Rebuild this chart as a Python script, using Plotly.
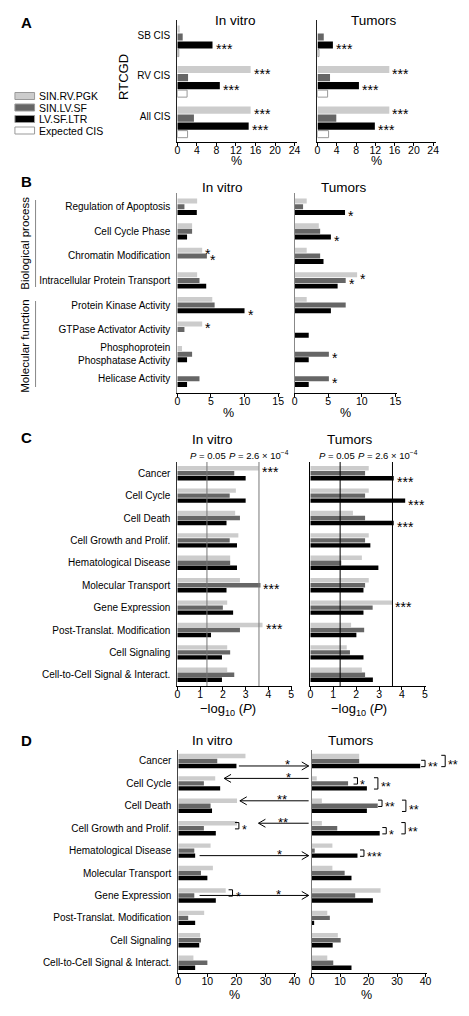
import math
import plotly.graph_objects as go

# page is 469 x 1016; the HTML body has a default 8px margin, so the figure is
# drawn inside that margin and positions below are given in page pixels.
PAGE_W, PAGE_H = 469, 1016
OFF = 8
W, H = PAGE_W - 2 * OFF, PAGE_H - 2 * OFF
FONT = "Liberation Sans, Arial, Helvetica, sans-serif"

# ---------------- data ----------------
series_names = ["SIN.RV.PGK", "SIN.LV.SF", "LV.SF.LTR", "Expected CIS"]
series_colors = ["#cccccc", "#666666", "#000000", "#ffffff"]

# Panel A (RTCGD, %)
a_categories = ["SB CIS", "RV CIS", "All CIS"]
a_vitro_rv_pgk = [0.5, 15.0, 15.0]
a_vitro_lv_sf = [1.1, 2.2, 3.4]
a_vitro_lv_ltr = [7.2, 8.7, 14.6]
a_vitro_expected = [0.3, 2.0, 2.1]
a_tumor_rv_pgk = [0.0, 14.9, 14.9]
a_tumor_lv_sf = [1.3, 2.6, 3.9]
a_tumor_lv_ltr = [3.2, 8.6, 11.9]
a_tumor_expected = [0.3, 2.1, 2.3]
a_ticks = [0, 4, 8, 12, 16, 20, 24]
a_vitro_sig = [(2, 0), (0, 1), (2, 1), (0, 2), (2, 2)]   # (series, category)
a_tumor_sig = [(2, 0), (0, 1), (2, 1), (0, 2), (2, 2)]

# Panel B (GO terms, %)
b_categories = ["Regulation of Apoptosis", "Cell Cycle Phase", "Chromatin Modification",
                "Intracellular Protein Transport", "Protein Kinase Activity",
                "GTPase Activator Activity", "Phosphoprotein<br>Phosphatase Activity",
                "Helicase Activity"]
b_vitro_rv_pgk = [2.95, 2.2, 3.7, 2.95, 5.2, 3.7, 0.7, 0.0]
b_vitro_lv_sf = [1.06, 2.2, 4.4, 3.3, 5.55, 1.06, 2.2, 3.3]
b_vitro_lv_ltr = [2.9, 1.45, 0.0, 4.3, 10.0, 0.0, 1.45, 1.45]
b_tumor_rv_pgk = [1.8, 3.6, 1.8, 9.3, 1.8, 0.0, 0.0, 0.0]
b_tumor_lv_sf = [1.26, 3.8, 3.8, 7.6, 7.6, 0.0, 5.1, 5.1]
b_tumor_lv_ltr = [7.5, 5.4, 4.3, 6.4, 5.4, 2.1, 2.1, 2.1]
b_ticks = [0, 5, 10, 15]
b_vitro_sig = [(0, 2), (1, 2), (2, 4), (0, 5)]
b_tumor_sig = [(2, 0), (2, 1), (0, 3), (1, 3), (1, 6), (1, 7)]
b_groups = ["Biological process", "Molecular function"]

# Panel C (-log10 P)
cd_categories = ["Cancer", "Cell Cycle", "Cell Death", "Cell Growth and Prolif.",
                 "Hematological Disease", "Molecular Transport", "Gene Expression",
                 "Post-Translat. Modification", "Cell Signaling",
                 "Cell-to-Cell Signal & Interact."]
c_vitro_rv_pgk = [3.57, 2.57, 2.54, 2.68, 2.32, 2.75, 2.19, 3.74, 2.19, 2.19]
c_vitro_lv_sf = [2.5, 2.3, 2.75, 2.3, 2.32, 3.65, 2.0, 2.75, 2.32, 2.5]
c_vitro_lv_ltr = [3.0, 3.0, 2.16, 2.62, 2.62, 2.16, 2.45, 1.48, 1.96, 1.96]
c_tumor_rv_pgk = [2.55, 2.55, 1.86, 2.55, 2.25, 2.55, 3.58, 1.78, 1.59, 2.25]
c_tumor_lv_sf = [2.39, 2.39, 2.39, 2.39, 1.35, 2.39, 2.72, 2.35, 1.73, 2.39]
c_tumor_lv_ltr = [3.64, 4.14, 3.64, 2.62, 2.97, 2.32, 2.32, 2.01, 2.32, 2.73]
c_ticks = [0, 1, 2, 3, 4, 5]
c_pvalues = [0.05, 2.6e-4]
c_vitro_sig = [(0, 0), (1, 5), (0, 7)]
c_tumor_sig = [(2, 0), (2, 1), (2, 2), (0, 6)]

# Panel D (%)
d_vitro_rv_pgk = [23.1, 12.7, 20.2, 20.2, 11.1, 11.9, 16.3, 8.9, 7.5, 5.2]
d_vitro_lv_sf = [13.4, 8.8, 11.1, 8.8, 5.5, 7.8, 5.5, 3.4, 7.8, 10.0]
d_vitro_lv_ltr = [20.0, 14.4, 11.6, 12.9, 5.8, 10.0, 12.9, 5.8, 7.2, 5.8]
d_tumor_rv_pgk = [16.7, 1.8, 3.6, 3.6, 7.3, 7.3, 24.2, 5.5, 9.2, 5.5]
d_tumor_lv_sf = [16.7, 12.8, 23.2, 9.0, 1.1, 11.6, 15.3, 6.4, 10.2, 7.6]
d_tumor_lv_ltr = [38.1, 19.4, 19.4, 23.9, 16.1, 14.0, 21.5, 0.9, 7.4, 14.0]
d_ticks = [0, 10, 20, 30, 40]
# arrows between in vitro and tumors: (category, series row, direction, label)
d_arrows = [(0, 2, "right", "*"), (1, 0, "left", "*"), (2, 0, "left", "**"),
            (3, 0, "left", "**"), (4, 2, "right", "*"), (6, 1, "right", "*")]
# brackets: (side, category, from series, to series, label)
d_brackets = [("vitro", 3, 0, 1, "*"), ("vitro", 6, 0, 1, "*"),
              ("tumor", 0, 1, 2, "**"), ("tumor", 0, 0, 2, "**"),
              ("tumor", 1, 0, 1, "*"), ("tumor", 1, 0, 2, "**"),
              ("tumor", 2, 0, 1, "**"), ("tumor", 2, 0, 2, "**"),
              ("tumor", 3, 1, 2, "*"), ("tumor", 3, 0, 2, "**"),
              ("tumor", 4, 1, 2, "***")]

# ---------------- layout helpers ----------------
def fx(px):
    return (px - OFF) / W


def fy(py):
    return 1 - (py - OFF) / H


fig = go.Figure()
axes = {}
annotations = []
shapes = []


def add_subplot(idx, xpx, xmax, ypx, yrange, xticks, categories, show_labels,
                tickshift, ycolor):
    xa = "xaxis" if idx == 1 else f"xaxis{idx}"
    ya = "yaxis" if idx == 1 else f"yaxis{idx}"
    xid = "x" if idx == 1 else f"x{idx}"
    yid = "y" if idx == 1 else f"y{idx}"
    axes[xa] = dict(domain=[fx(xpx[0]), fx(xpx[1])], range=[0, xmax], anchor=yid,
                    tickvals=xticks, ticks="outside", ticklen=3, tickwidth=1,
                    tickcolor="black", showline=True, linecolor="black", linewidth=1,
                    showgrid=False, zeroline=False, ticklabelstandoff=-5,
                    tickfont=dict(size=10.5, color="black", family=FONT))
    axes[ya] = dict(domain=[fy(ypx[1]), fy(ypx[0])], range=yrange, anchor=xid,
                    tickvals=[i + tickshift for i in range(len(categories))],
                    ticktext=categories, showticklabels=show_labels, ticks="",
                    showline=True, linecolor=ycolor, linewidth=1, showgrid=False,
                    zeroline=False, ticklabelstandoff=4,
                    tickfont=dict(size=10, color="black", family=FONT))
    return xid, yid


def bar_center(cat, k, n, slot):
    return cat - n * slot / 2 + (k + 0.5) * slot


def add_bars(xid, yid, series_vals, slot):
    n = len(series_vals)
    for k, vals in enumerate(series_vals):
        outline = dict(color="#999999", width=1) if k == 3 else dict(width=0)
        fig.add_trace(go.Bar(
            x=vals, y=list(range(len(vals))), orientation="h",
            xaxis=xid, yaxis=yid, name=series_names[k],
            width=slot * 0.88, offset=-n * slot / 2 + k * slot + slot * 0.06,
            marker=dict(color=series_colors[k], line=outline),
            showlegend=False, hoverinfo="skip"))


def add_stars(xid, yid, sig, series_vals, slot, label, size):
    n = len(series_vals)
    for k, c in sig:
        annotations.append(dict(
            x=series_vals[k][c], y=bar_center(c, k, n, slot), xref=xid, yref=yid,
            text=label, showarrow=False, xanchor="left", yanchor="middle",
            xshift=1, yshift=-4, font=dict(size=size, color="black", family=FONT)))


def text(x, y, s, size, **kw):
    d = dict(x=fx(x), y=fy(y), xref="paper", yref="paper", text=s, showarrow=False,
             xanchor="center", yanchor="middle",
             font=dict(size=size, color="black", family=FONT))
    d.update(kw)
    annotations.append(d)


# ---------------- Panel A ----------------
slotA = 0.1975
a_vitro = [a_vitro_rv_pgk, a_vitro_lv_sf, a_vitro_lv_ltr, a_vitro_expected]
a_tumor = [a_tumor_rv_pgk, a_tumor_lv_sf, a_tumor_lv_ltr, a_tumor_expected]
x1, y1 = add_subplot(1, (177.3, 298.7), 24.4, (20, 142), [2.49, -0.52], a_ticks,
                     a_categories, True, -0.15, "#222222")
x2, y2 = add_subplot(2, (320, 440.7), 24.6, (20, 142), [2.49, -0.52], a_ticks,
                     a_categories, False, -0.15, "#222222")
add_bars(x1, y1, a_vitro, slotA)
add_bars(x2, y2, a_tumor, slotA)
add_stars(x1, y1, a_vitro_sig, a_vitro, slotA, "***", 14)
add_stars(x2, y2, a_tumor_sig, a_tumor, slotA, "***", 14)

# ---------------- Panel B ----------------
slotB = 0.23
b_vitro = [b_vitro_rv_pgk, b_vitro_lv_sf, b_vitro_lv_ltr]
b_tumor = [b_tumor_rv_pgk, b_tumor_lv_sf, b_tumor_lv_ltr]
x3, y3 = add_subplot(3, (177.3, 282), 15.3, (193, 393), [7.58, -0.56], b_ticks,
                     b_categories, True, 0, "#888888")
x4, y4 = add_subplot(4, (296.7, 401.4), 15.3, (193, 393), [7.58, -0.56], b_ticks,
                     b_categories, False, 0, "#888888")
add_bars(x3, y3, b_vitro, slotB)
add_bars(x4, y4, b_tumor, slotB)
add_stars(x3, y3, b_vitro_sig, b_vitro, slotB, "*", 14)
add_stars(x4, y4, b_tumor_sig, b_tumor, slotB, "*", 14)

# ---------------- Panel C ----------------
slotC = 0.223
c_vitro = [c_vitro_rv_pgk, c_vitro_lv_sf, c_vitro_lv_ltr]
c_tumor = [c_tumor_rv_pgk, c_tumor_lv_sf, c_tumor_lv_ltr]
x5, y5 = add_subplot(5, (177.3, 294.4), 5.05, (462, 686), [9.5, -0.5], c_ticks,
                     cd_categories, True, 0, "#333333")
x6, y6 = add_subplot(6, (312.7, 430.5), 5.05, (462, 686), [9.5, -0.5], c_ticks,
                     cd_categories, False, 0, "#000000")
add_bars(x5, y5, c_vitro, slotC)
add_bars(x6, y6, c_tumor, slotC)
add_stars(x5, y5, c_vitro_sig, c_vitro, slotC, "***", 14)
add_stars(x6, y6, c_tumor_sig, c_tumor, slotC, "***", 14)
thr = [-math.log10(p) for p in c_pvalues]
for xid, yid, col in ((x5, y5, "#777777"), (x6, y6, "#000000")):
    for t in thr:
        shapes.append(dict(type="line", xref=xid, yref=yid + " domain", x0=t, x1=t,
                           y0=0, y1=1, line=dict(color=col, width=1), layer="above"))
for xid, s1, s2 in ((x5, 1, 0), (x6, -3, -4)):
    annotations.append(dict(x=thr[0], y=fy(455), xref=xid, yref="paper",
                            text="<i>P</i> = 0.05", showarrow=False, xanchor="center",
                            yanchor="middle", xshift=s1,
                            font=dict(size=9.5, color="black", family=FONT)))
    annotations.append(dict(x=thr[1], y=fy(455), xref=xid, yref="paper",
                            text="<i>P</i> = 2.6 × 10<sup>−4</sup>", showarrow=False,
                            xanchor="center", yanchor="middle", xshift=s2,
                            font=dict(size=9.5, color="black", family=FONT)))

# ---------------- Panel D ----------------
slotD = 0.223
d_vitro = [d_vitro_rv_pgk, d_vitro_lv_sf, d_vitro_lv_ltr]
d_tumor = [d_tumor_rv_pgk, d_tumor_lv_sf, d_tumor_lv_ltr]
x7, y7 = add_subplot(7, (178.3, 298.2), 40.5, (750, 973), [9.46, -0.49], d_ticks,
                     cd_categories, True, 0, "#444444")
x8, y8 = add_subplot(8, (314, 431.5), 40.5, (750, 973), [9.46, -0.49], d_ticks,
                     cd_categories, False, 0, "#777777")
add_bars(x7, y7, d_vitro, slotD)
add_bars(x8, y8, d_tumor, slotD)

ypx_per_unit_D = (973 - 750) / (9.46 + 0.49)
arrow_vitro_end = [240, 225, 241, 260, 200, 200]
arrow_star_x = [289, 290, 284, 285, 281, 280]
tumor_end = 311
for (cat, k, direction, lab), vend, sx in zip(d_arrows, arrow_vitro_end, arrow_star_x):
    yv = bar_center(cat, k, 3, slotD)
    if direction == "right":
        tail, head = vend, tumor_end
    else:
        tail, head = tumor_end, vend
    shapes.append(dict(type="line", xref="paper", yref=y8, x0=fx(tail), x1=fx(head),
                       y0=yv, y1=yv, line=dict(color="black", width=1)))
    sgn = 1 if direction == "right" else -1
    dy = 4 / ypx_per_unit_D
    shapes.append(dict(type="path", xref="paper", yref=y8,
                       path=f"M {fx(head - sgn * 7)},{yv - dy} L {fx(head)},{yv} "
                            f"L {fx(head - sgn * 7)},{yv + dy}",
                       line=dict(color="black", width=1)))
    annotations.append(dict(x=fx(sx), y=yv, xref="paper", yref=y8, text=lab,
                            showarrow=False, xanchor="center", yanchor="middle",
                            yshift=1, font=dict(size=13, color="black", family=FONT)))

bracket_x = [236, 229.5, 425.5, 446, 356.7, 377.5, 381.7, 406, 386, 405.3, 363.3]
for (side, cat, k0, k1, lab), bx in zip(d_brackets, bracket_x):
    ya = y7 if side == "vitro" else y8
    yt = bar_center(cat, k0, 3, slotD) - 0.03
    yb = bar_center(cat, k1, 3, slotD) + 0.03
    shapes.append(dict(type="path", xref="paper", yref=ya,
                       path=f"M {fx(bx)},{yt} L {fx(bx + 4)},{yt} L {fx(bx + 4)},{yb} "
                            f"L {fx(bx)},{yb}",
                       line=dict(color="black", width=1)))
    annotations.append(dict(x=fx(bx + 5), y=(yt + yb) / 2, xref="paper", yref=ya,
                            text=lab, showarrow=False, xanchor="left", yanchor="middle",
                            yshift=-4, font=dict(size=12.5, color="black", family=FONT)))

# ---------------- texts ----------------
for lbl, y in (("A", 22), ("B", 182), ("C", 438), ("D", 740)):
    text(24, y, f"<b>{lbl}</b>", 15)

text(237, 20, "In vitro", 13.5)
text(378, 20, "Tumors", 13.5)
text(223.5, 187, "In vitro", 13.5)
text(347, 187, "Tumors", 13.5)
text(213.3, 440, "In vitro", 13.5)
text(353, 440, "Tumors", 13.5)
text(213.3, 740, "In vitro", 13.5)
text(354, 740, "Tumors", 13.5)

text(238, 161, "%", 12.5)
text(380, 161, "%", 12.5)
text(229.6, 413, "%", 12.5)
text(349, 413, "%", 12.5)
text(229, 709, "−log<sub>10</sub> (<i>P</i>)", 13)
text(362, 709, "−log<sub>10</sub> (<i>P</i>)", 13)
text(235.5, 995, "%", 12.5)
text(370, 995, "%", 12.5)

text(123, 77, "RTCGD", 13, textangle=-90)
text(22, 243, b_groups[0], 11.5, textangle=-90)
text(22, 346, b_groups[1], 11.5, textangle=-90)
shapes.append(dict(type="line", xref="paper", yref="paper", x0=fx(33), x1=fx(33),
                   y0=fy(200), y1=fy(287), line=dict(color="#888888", width=1)))
shapes.append(dict(type="line", xref="paper", yref="paper", x0=fx(33), x1=fx(33),
                   y0=fy(301), y1=fy(387), line=dict(color="#888888", width=1)))

# legend (custom swatches)
legend_y = [96, 107.5, 119, 130.5]
for name, col, ly in zip(series_names, series_colors, legend_y):
    shapes.append(dict(type="rect", xref="paper", yref="paper", x0=fx(12), x1=fx(32),
                       y0=fy(ly + 3.5), y1=fy(ly - 3.5), fillcolor=col,
                       line=dict(color="#999999", width=1)))
    text(34, ly, name, 10.5, xanchor="left")

fig.update_layout(
    width=W, height=H, margin=dict(l=0, r=0, t=0, b=0),
    paper_bgcolor="white", plot_bgcolor="white", barmode="overlay",
    font=dict(family=FONT, color="black"),
    annotations=annotations, shapes=shapes, showlegend=False, **axes)

fig.write_html("out.html")
